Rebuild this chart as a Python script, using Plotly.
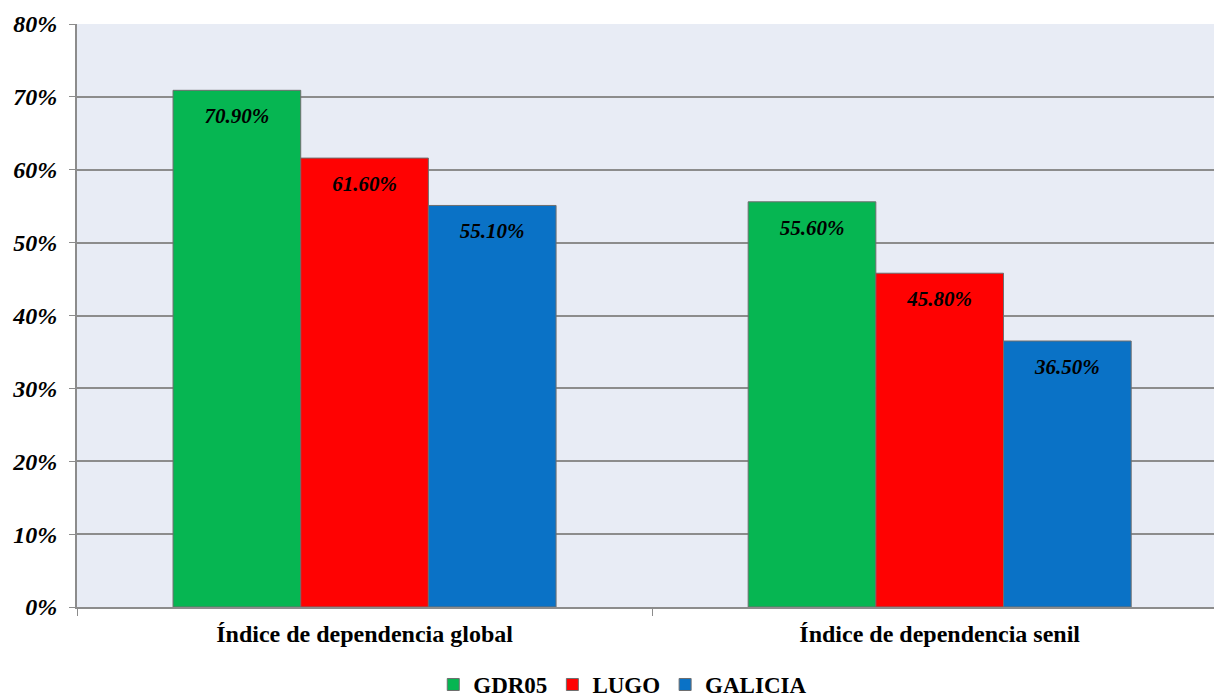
import plotly.graph_objects as go

categories = ["Índice de dependencia global", "Índice de dependencia senil"]
series_names = ["GDR05", "LUGO", "GALICIA"]
gdr05 = [0.709, 0.556]
lugo = [0.616, 0.458]
galicia = [0.551, 0.365]
colors = ["#06B652", "#FF0202", "#0A72C6"]
y_ticks = [0, 0.1, 0.2, 0.3, 0.4, 0.5, 0.6, 0.7, 0.8]

FONT = "Liberation Serif"

fig = go.Figure()
for name, vals, c in zip(series_names, [gdr05, lugo, galicia], colors):
    fig.add_trace(go.Bar(
        x=categories, y=vals, name=name, offsetgroup=name,
        marker=dict(color=c, line=dict(color="#6E6E6E", width=1)),
    ))
for name, vals in zip(series_names, [gdr05, lugo, galicia]):
    fig.add_trace(go.Scatter(
        x=categories, y=vals, offsetgroup=name, mode="markers+text",
        marker=dict(size=26, opacity=0),
        text=[f"<i>{v*100:.2f}%</i>" for v in vals],
        textposition="bottom center",
        textfont=dict(family=FONT, size=21, color="black", weight="bold"),
        showlegend=False, hoverinfo="skip", cliponaxis=False,
    ))

fig.update_layout(
    width=1214, height=697,
    margin=dict(l=77, r=0, t=24, b=90, autoexpand=False),
    barmode="group", bargap=0.334, bargroupgap=0.0,
    scattermode="group", scattergap=0.334,
    plot_bgcolor="#E8ECF5", paper_bgcolor="white",
    font=dict(family=FONT, color="black"),
    xaxis=dict(
        range=[-0.5, 1.477], automargin=False,
        showline=True, linecolor="#8C8C8C", linewidth=2,
        ticks="outside", tickcolor="#8C8C8C", ticklen=7,
        tickson="boundaries", ticklabelstandoff=4,
        tickfont=dict(family=FONT, size=24, color="black", weight="bold"),
        showgrid=False,
    ),
    yaxis=dict(
        range=[0, 0.8], tickvals=y_ticks, tickformat=".0%", automargin=False,
        showline=True, linecolor="#8C8C8C", linewidth=2,
        ticks="outside", tickcolor="#8C8C8C", ticklen=6,
        ticklabelstandoff=7,
        gridcolor="#8C8C8C", gridwidth=2,
        tickfont=dict(family=FONT, size=24, color="black", weight="bold", style="italic"),
        zeroline=False,
    ),
    legend=dict(
        orientation="h", x=0.48, xanchor="center", y=-0.133, yanchor="middle",
        font=dict(family=FONT, size=23, color="black", weight="bold"),
        itemwidth=30, traceorder="normal",
    ),
)

fig.write_html(
    "out.html",
    config={"displayModeBar": False},
    post_script="document.body.style.margin='0';document.body.style.overflow='hidden';",
)
